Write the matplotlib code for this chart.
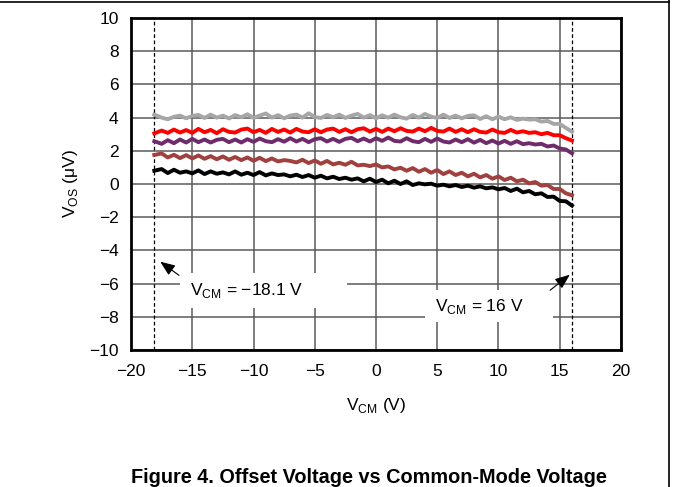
import matplotlib
matplotlib.use("Agg")
import matplotlib.pyplot as plt
from matplotlib.lines import Line2D
from matplotlib.patches import Rectangle

plt.rcParams['font.family'] = ['Liberation Sans', 'DejaVu Sans']
plt.rcParams['mathtext.fontset'] = 'custom'
plt.rcParams['mathtext.rm'] = 'Liberation Sans'

# common-mode sweep points (V)
vcm = [-18.1, -17.5, -17.0, -16.5, -16.0, -15.5, -15.0, -14.5, -14.0, -13.5,
       -13.0, -12.5, -12.0, -11.5, -11.0, -10.5, -10.0, -9.5, -9.0, -8.5,
       -8.0, -7.5, -7.0, -6.5, -6.0, -5.5, -5.0, -4.5, -4.0, -3.5,
       -3.0, -2.5, -2.0, -1.5, -1.0, -0.5, 0.0, 0.5, 1.0, 1.5,
       2.0, 2.5, 3.0, 3.5, 4.0, 4.5, 5.0, 5.5, 6.0, 6.5,
       7.0, 7.5, 8.0, 8.5, 9.0, 9.5, 10.0, 10.5, 11.0, 11.5,
       12.0, 12.5, 13.0, 13.5, 14.0, 14.5, 15.0, 15.5, 16.0]

# offset voltage of five units (uV)
vos_gray = [4.18, 4.00, 3.90, 4.05, 4.12, 3.96, 4.10, 4.16, 3.98, 4.18,
            4.00, 4.12, 3.95, 4.15, 4.02, 4.20, 3.98, 4.12, 4.25, 4.00,
            4.15, 3.96, 4.12, 4.18, 4.00, 4.26, 4.04, 3.98, 4.16, 4.02,
            4.18, 3.98, 4.12, 4.22, 4.00, 4.15, 3.96, 4.14, 4.00, 4.18,
            4.02, 3.94, 4.16, 4.00, 4.22, 4.06, 3.98, 4.18, 3.98, 4.12,
            3.96, 4.10, 4.14, 3.92, 4.08, 3.90, 4.06, 3.90, 4.02, 3.86,
            3.94, 3.88, 3.90, 3.76, 3.80, 3.62, 3.62, 3.38, 3.15]
vos_red = [3.05, 3.22, 3.08, 3.28, 3.10, 3.25, 3.08, 3.32, 3.12, 3.26,
           3.06, 3.30, 3.14, 3.10, 3.28, 3.34, 3.12, 3.26, 3.08, 3.32,
           3.14, 3.28, 3.10, 3.32, 3.16, 3.12, 3.30, 3.12, 3.28, 3.34,
           3.14, 3.30, 3.12, 3.30, 3.36, 3.16, 3.32, 3.14, 3.34, 3.18,
           3.36, 3.20, 3.16, 3.34, 3.18, 3.38, 3.20, 3.16, 3.34, 3.14,
           3.30, 3.12, 3.30, 3.14, 3.10, 3.28, 3.12, 3.08, 3.26, 3.10,
           3.18, 3.08, 3.12, 3.00, 3.08, 2.94, 2.94, 2.76, 2.62]
vos_purple = [2.58, 2.42, 2.64, 2.46, 2.68, 2.50, 2.72, 2.52, 2.68, 2.50,
              2.66, 2.72, 2.52, 2.68, 2.50, 2.70, 2.54, 2.74, 2.58, 2.52,
              2.70, 2.55, 2.76, 2.56, 2.72, 2.52, 2.70, 2.76, 2.56, 2.72,
              2.54, 2.72, 2.78, 2.58, 2.74, 2.56, 2.76, 2.60, 2.80, 2.60,
              2.56, 2.76, 2.58, 2.52, 2.72, 2.54, 2.74, 2.56, 2.50, 2.68,
              2.52, 2.70, 2.49, 2.66, 2.46, 2.62, 2.44, 2.60, 2.42, 2.58,
              2.40, 2.46, 2.38, 2.42, 2.26, 2.32, 2.14, 2.08, 1.85]
vos_brown = [1.75, 1.84, 1.60, 1.76, 1.56, 1.74, 1.54, 1.72, 1.52, 1.68,
             1.49, 1.66, 1.46, 1.63, 1.44, 1.60, 1.40, 1.58, 1.38, 1.54,
             1.36, 1.44, 1.39, 1.30, 1.46, 1.26, 1.42, 1.22, 1.39, 1.18,
             1.28, 1.16, 1.34, 1.12, 1.16, 1.08, 1.18, 1.00, 1.06, 0.88,
             0.98, 0.80, 0.96, 0.74, 0.90, 0.68, 0.84, 0.60, 0.76, 0.54,
             0.68, 0.46, 0.62, 0.40, 0.54, 0.32, 0.46, 0.24, 0.38, 0.16,
             0.26, 0.04, 0.12, -0.10, -0.06, -0.30, -0.30, -0.56, -0.68]
vos_black = [0.80, 0.90, 0.66, 0.86, 0.68, 0.76, 0.64, 0.82, 0.60, 0.76,
             0.62, 0.70, 0.58, 0.76, 0.56, 0.68, 0.54, 0.72, 0.52, 0.64,
             0.54, 0.58, 0.46, 0.56, 0.42, 0.54, 0.38, 0.50, 0.34, 0.44,
             0.30, 0.38, 0.26, 0.34, 0.16, 0.32, 0.12, 0.26, 0.04, 0.20,
             0.00, 0.16, -0.06, 0.04, -0.02, 0.02, -0.10, -0.04, -0.14, -0.06,
             -0.18, -0.10, -0.22, -0.14, -0.26, -0.20, -0.32, -0.24, -0.42, -0.28,
             -0.50, -0.42, -0.62, -0.56, -0.78, -0.76, -1.02, -1.04, -1.30]

series = [(vos_gray, '#a6a6a6'), (vos_red, '#ff0000'), (vos_purple, '#6e2c6c'),
          (vos_brown, '#a0403f'), (vos_black, '#000000')]

vcm_limits = [-18.1, 16.0]
xticks = [-20, -15, -10, -5, 0, 5, 10, 15, 20]
yticks = [-10, -8, -6, -4, -2, 0, 2, 4, 6, 8, 10]

FS = 12.5

fig = plt.figure(figsize=(6.73, 4.87), dpi=100)
ax = fig.add_axes([0.1947, 0.2813, 0.728, 0.6817])

for vals, col in series:
    ax.plot(vcm, vals, color=col, lw=2.8, zorder=3)

ax.set_xlim(-20, 20)
ax.set_ylim(-10, 10)
ax.set_xticks(xticks)
ax.set_yticks(yticks)
ax.grid(True, color='#5a5a5a', lw=1.1, zorder=0)
ax.set_axisbelow(True)
ax.tick_params(length=0, labelsize=FS)
ax.tick_params(axis='x', pad=10)
ax.tick_params(axis='y', pad=9)
for sp in ax.spines.values():
    sp.set_linewidth(2)
    sp.set_color('black')

# supply-limited common-mode range
for v in vcm_limits:
    ax.axvline(v, color='black', lw=0.9, ls=(0, (3, 2)), zorder=2)

# label boxes knock out the grid behind the text
ax.add_patch(Rectangle((-16.0, -7.47), 13.63, 2.11, facecolor='white',
                       edgecolor='none', zorder=1))
ax.add_patch(Rectangle((4.0, -8.31), 10.45, 1.92, facecolor='white',
                       edgecolor='none', zorder=1))

ax.text(-15.18, -6.39, 'V$_\\mathregular{CM}$ = \u221218.1 V',
        fontsize=FS, ha='left', va='center', zorder=4)
ax.text(4.8, -7.4, 'V$_\\mathregular{CM}$ = 16 V', fontsize=FS,
        ha='left', va='center', zorder=4)
arrow_style = dict(arrowstyle='-|>,head_length=0.5,head_width=0.2',
                   color='black', lw=0.8, mutation_scale=18)
ax.annotate('', xy=(-17.8, -4.58), xytext=(-15.9, -5.6),
            arrowprops=arrow_style, zorder=4)
ax.annotate('', xy=(16.0, -5.36), xytext=(14.04, -6.5),
            arrowprops=arrow_style, zorder=4)

ax.set_xlabel('V$_\\mathregular{CM}$ (V)', fontsize=FS)
ax.set_ylabel('V$_\\mathregular{OS}$ ($\\mathregular{\\mu}$V)', fontsize=FS)
ax.xaxis.set_label_coords(0.5, -0.138)
ax.yaxis.set_label_coords(-0.105, 0.5)

fig.text(0.548, 0.0205, 'Figure 4. Offset Voltage vs Common-Mode Voltage',
         fontsize=14.3, fontweight='bold', ha='center', va='center')

# page frame lines
fig.add_artist(Line2D([0, 0.994], [0.996, 0.996], color='black', lw=1.2))
fig.add_artist(Line2D([0.994, 0.994], [0, 1], color='black', lw=1.2))

fig.savefig('out.png', dpi=100)
